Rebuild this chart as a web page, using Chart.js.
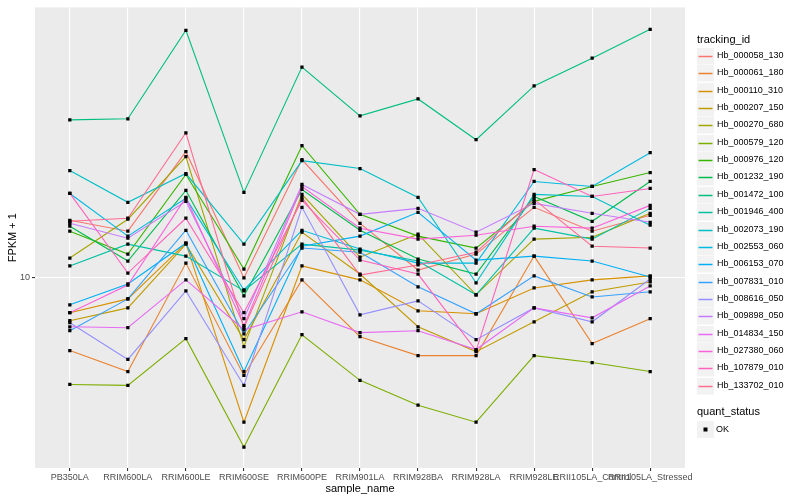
<!DOCTYPE html>
<html>
<head>
<meta charset="utf-8">
<script src="https://cdn.jsdelivr.net/npm/chart.js@4.4.0/dist/chart.umd.min.js"></script>
<style>
  html, body { margin: 0; padding: 0; background: #ffffff; }
  #wrap { width: 800px; height: 500px; }
</style>
</head>
<body>
<div id="wrap"><canvas id="chart" width="800" height="500"></canvas></div>
<script>
// sample names along the x axis
const sampleNames = ['PB350LA', 'RRIM600LA', 'RRIM600LE', 'RRIM600SE', 'RRIM600PE', 'RRIM901LA',
    'RRIM928BA', 'RRIM928LA', 'RRIM928LE', 'RRII105LA_Control', 'RRII105LA_Stressed'];

// FPKM + 1 per tracking id, one value per sample
const hb_000058_130 = [13.96, 13.11, 20.77, 10.00, 19.84, 13.72, 10.47, 11.48, 15.05, 13.11, 14.37];
const hb_000061_180 = [6.57, 5.82, 10.90, 5.69, 9.89, 7.12, 6.38, 6.38, 11.35, 6.84, 7.90];
const hb_000110_310 = [8.18, 8.86, 12.23, 4.34, 10.72, 9.89, 8.27, 8.13, 9.44, 9.89, 10.12];
const hb_000207_150 = [7.81, 8.41, 12.16, 7.00, 13.03, 10.23, 7.54, 6.53, 7.76, 9.23, 9.77];
const hb_000270_680 = [11.22, 14.05, 20.18, 6.72, 16.22, 11.28, 12.88, 9.07, 12.52, 12.66, 14.54];
const hb_000579_120 = [5.40, 5.37, 7.04, 3.76, 7.20, 5.53, 4.79, 4.34, 6.38, 6.13, 5.82];
const hb_000976_120 = [13.11, 11.48, 18.20, 10.53, 21.50, 14.45, 12.74, 11.89, 15.58, 16.98, 18.41];
const hb_001232_190 = [13.49, 11.03, 16.60, 9.02, 16.69, 13.18, 11.16, 10.23, 16.03, 13.88, 17.48];
const hb_001472_100 = [24.97, 25.12, 41.93, 16.41, 33.88, 25.56, 28.18, 22.26, 30.38, 35.68, 42.17];
const hb_001946_400 = [10.72, 12.16, 11.35, 9.28, 12.16, 11.75, 11.03, 9.07, 13.34, 12.52, 14.96];
const hb_002073_190 = [18.62, 15.49, 18.30, 12.16, 19.72, 18.84, 15.94, 9.72, 16.22, 16.03, 13.57];
const hb_002553_060 = [16.31, 12.74, 15.85, 9.33, 13.18, 11.82, 10.90, 10.90, 17.48, 16.98, 20.65];
const hb_006153_070 = [8.56, 9.66, 12.23, 5.82, 12.02, 12.74, 14.62, 11.09, 11.35, 11.03, 10.06];
const hb_007831_010 = [7.37, 8.86, 13.18, 7.24, 11.89, 11.61, 9.50, 8.13, 10.12, 8.96, 9.23];
const hb_008616_050 = [7.72, 6.24, 9.28, 5.37, 15.05, 8.08, 8.76, 7.00, 8.41, 7.76, 9.94];
const hb_009898_050 = [13.72, 12.59, 15.58, 7.90, 17.18, 14.45, 14.96, 13.03, 15.40, 14.54, 13.80];
const hb_014834_150 = [7.54, 7.50, 9.89, 7.41, 8.22, 7.29, 7.37, 6.61, 8.41, 7.94, 9.55];
const hb_027380_060 = [8.18, 9.60, 15.94, 7.59, 16.98, 13.34, 12.52, 12.81, 13.49, 13.34, 15.22];
const hb_107879_010 = [16.31, 10.29, 14.13, 8.18, 15.67, 11.09, 10.23, 6.57, 18.73, 16.03, 16.79];
const hb_133702_010 = [13.88, 14.13, 23.17, 7.50, 15.94, 10.17, 10.78, 11.61, 15.76, 12.02, 11.89];

const trackingIds = ['Hb_000058_130', 'Hb_000061_180', 'Hb_000110_310', 'Hb_000207_150', 'Hb_000270_680',
    'Hb_000579_120', 'Hb_000976_120', 'Hb_001232_190', 'Hb_001472_100', 'Hb_001946_400',
    'Hb_002073_190', 'Hb_002553_060', 'Hb_006153_070', 'Hb_007831_010', 'Hb_008616_050',
    'Hb_009898_050', 'Hb_014834_150', 'Hb_027380_060', 'Hb_107879_010', 'Hb_133702_010'];
const seriesValues = [hb_000058_130, hb_000061_180, hb_000110_310, hb_000207_150, hb_000270_680,
    hb_000579_120, hb_000976_120, hb_001232_190, hb_001472_100, hb_001946_400,
    hb_002073_190, hb_002553_060, hb_006153_070, hb_007831_010, hb_008616_050,
    hb_009898_050, hb_014834_150, hb_027380_060, hb_107879_010, hb_133702_010];

const yTicks = [10];

// ggplot default hue palette for 20 levels
const palette = ['#F8766D', '#EA8331', '#D89000', '#C09B00', '#A3A500', '#7CAE00', '#39B600', '#00BB4E',
    '#00BF7D', '#00C1A3', '#00BFC4', '#00BAE0', '#00B0F6', '#35A2FF', '#9590FF', '#C77CFF',
    '#E76BF3', '#FA62DB', '#FF62BC', '#FF6C91'];

const FONT = '"Liberation Sans", Arial, sans-serif';

// grey panel behind the plot
const panelBackground = {
    id: 'panelBackground',
    beforeDraw(chart) {
        const { ctx, chartArea: a } = chart;
        ctx.save();
        ctx.fillStyle = '#EBEBEB';
        ctx.fillRect(a.left, a.top, a.right - a.left, a.bottom - a.top);
        ctx.restore();
    }
};

// ggplot-like legend on the right
const sideLegend = {
    id: 'sideLegend',
    afterDraw(chart) {
        const ctx = chart.ctx;
        const x0 = 697, rowH = 17.35, firstY = 56;
        ctx.save();
        ctx.fillStyle = '#000000';
        ctx.font = '11px ' + FONT;
        ctx.textBaseline = 'middle';
        ctx.fillText('tracking_id', x0, 40);
        ctx.font = '9px ' + FONT;
        trackingIds.forEach((id, i) => {
            const cy = Math.round(firstY + i * rowH);
            ctx.fillStyle = '#F2F2F2';
            ctx.fillRect(x0, cy - 8, 17, 16.5);
            ctx.strokeStyle = palette[i];
            ctx.lineWidth = 1.5;
            ctx.beginPath();
            ctx.moveTo(x0 + 1.5, cy + 0.5);
            ctx.lineTo(x0 + 15.5, cy + 0.5);
            ctx.stroke();
            ctx.fillStyle = '#000000';
            ctx.fillText(id, 717, cy);
        });
        ctx.font = '11px ' + FONT;
        ctx.fillText('quant_status', x0, 412);
        ctx.fillStyle = '#F2F2F2';
        ctx.fillRect(x0, 421, 17, 17);
        ctx.fillStyle = '#000000';
        ctx.fillRect(x0 + 6.5, 427.5, 4, 4);
        ctx.font = '9px ' + FONT;
        ctx.fillText('OK', 716, 430);
        ctx.restore();
    }
};

const lineSets = trackingIds.map((id, i) => ({
    type: 'line',
    label: id,
    data: seriesValues[i].map((v, j) => ({ x: j, y: v })),
    borderColor: palette[i],
    borderWidth: 1.1,
    pointRadius: 0,
    tension: 0,
    order: 100 - i
}));

const pointSet = {
    type: 'scatter',
    label: 'OK',
    data: seriesValues.flatMap(vals => vals.map((v, j) => ({ x: j, y: v }))),
    backgroundColor: '#000000',
    borderColor: '#000000',
    borderWidth: 0,
    pointStyle: 'rect',
    pointRadius: 2.3,
    order: 0
};

new Chart(document.getElementById('chart'), {
    type: 'line',
    data: { datasets: [...lineSets, pointSet] },
    plugins: [panelBackground, sideLegend],
    options: {
        responsive: false,
        animation: false,
        layout: { padding: { top: 5, right: 115, left: 0, bottom: 0 } },
        plugins: { legend: { display: false }, tooltip: { enabled: false } },
        scales: {
            x: {
                type: 'linear',
                min: -0.6,
                max: sampleNames.length - 1 + 0.6,
                afterBuildTicks: scale => { scale.ticks = sampleNames.map((s, i) => ({ value: i })); },
                afterFit: scale => { scale.height = 32; },
                border: { display: false },
                grid: { color: '#FFFFFF', lineWidth: 1.1, tickColor: '#333333', tickLength: 3 },
                ticks: {
                    autoSkip: false, maxRotation: 0, minRotation: 0, padding: 1,
                    color: '#4D4D4D', font: { family: FONT, size: 9 },
                    callback: v => sampleNames[v]
                },
                title: {
                    display: true, text: 'sample_name', color: '#000000',
                    font: { family: FONT, size: 11 }, padding: { top: 0, bottom: 4 }
                }
            },
            y: {
                type: 'logarithmic',
                min: 3.33,
                max: 47.86,
                afterBuildTicks: scale => { scale.ticks = yTicks.map(v => ({ value: v })); },
                afterFit: scale => { scale.width = 35; },
                border: { display: false },
                grid: { color: '#FFFFFF', lineWidth: 1.1, tickColor: '#333333', tickLength: 3 },
                ticks: {
                    padding: 2, color: '#4D4D4D', font: { family: FONT, size: 9 },
                    callback: v => String(v)
                },
                title: {
                    display: true, text: 'FPKM + 1', color: '#000000',
                    font: { family: FONT, size: 11 }, padding: { top: 6, bottom: 0 }
                }
            }
        }
    }
});
</script>
</body>
</html>
